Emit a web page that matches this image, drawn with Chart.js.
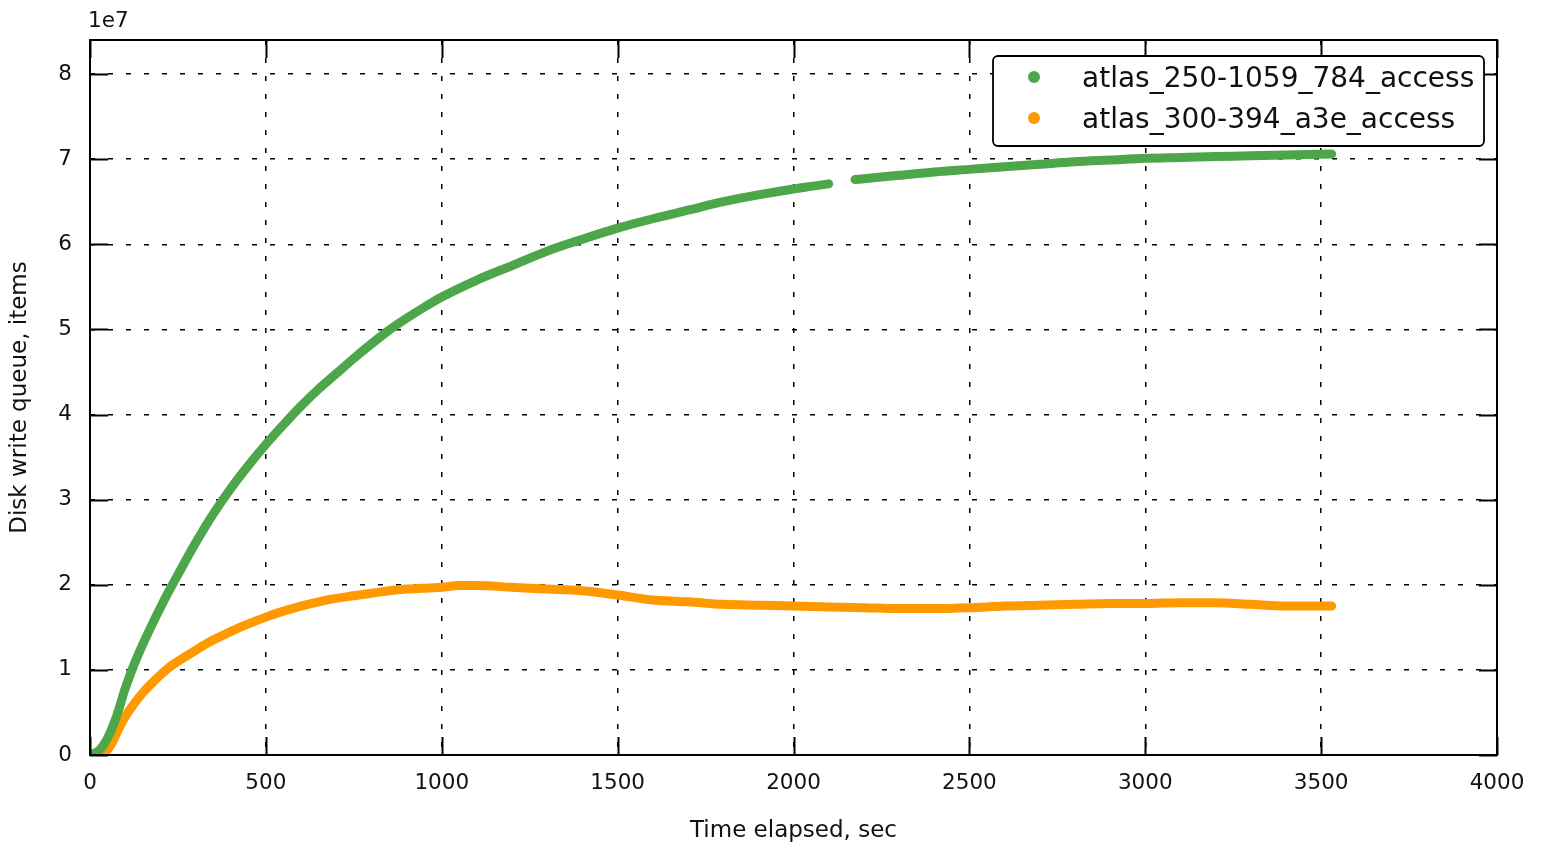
<!DOCTYPE html>
<html>
<head>
<meta charset="utf-8">
<script src="https://cdn.jsdelivr.net/npm/chart.js@4.4.1/dist/chart.umd.min.js"></script>
<style>
  html, body { margin: 0; padding: 0; background: #fff; }
  canvas { display: block; }
</style>
</head>
<body>
<canvas id="c" width="1547" height="852"></canvas>
<script>
// ---- data (values in units of 1e7 items) ----
const greenLabel = 'atlas_250-1059_784_access';
const orangeLabel = 'atlas_300-394_a3e_access';

const greenTimes = [0, 25, 50, 75, 100, 125, 150, 175, 200, 225, 250, 300, 350, 400, 450, 500, 550, 600, 650, 700, 750, 800, 850, 900, 950, 1000, 1100, 1200, 1300, 1400, 1500, 1600, 1700, 1800, 1900, 2000, 2050, 2100, 2140, 2175, 2200, 2300, 2400, 2500, 2600, 2700, 2800, 2900, 3000, 3100, 3200, 3300, 3400, 3530];
const greenValues = [0, 0.05, 0.2, 0.45, 0.78, 1.06, 1.3, 1.52, 1.73, 1.93, 2.12, 2.49, 2.83, 3.13, 3.4, 3.65, 3.88, 4.1, 4.3, 4.48, 4.66, 4.83, 4.99, 5.13, 5.26, 5.38, 5.58, 5.75, 5.92, 6.06, 6.19, 6.3, 6.4, 6.5, 6.58, 6.65, 6.68, 6.71, null, 6.76, 6.77, 6.81, 6.85, 6.88, 6.91, 6.94, 6.97, 6.99, 7.01, 7.02, 7.03, 7.04, 7.05, 7.06];

const orangeTimes = [0, 25, 40, 60, 75, 100, 125, 150, 175, 200, 225, 250, 300, 350, 400, 450, 500, 550, 600, 650, 700, 750, 800, 850, 900, 950, 1000, 1050, 1100, 1200, 1300, 1400, 1500, 1600, 1700, 1800, 1900, 2000, 2100, 2200, 2300, 2400, 2500, 2600, 2700, 2800, 2900, 3000, 3100, 3200, 3300, 3400, 3500, 3530];
const orangeValues = [0, 0, 0.02, 0.12, 0.25, 0.45, 0.6, 0.73, 0.84, 0.94, 1.03, 1.1, 1.23, 1.35, 1.45, 1.54, 1.62, 1.69, 1.75, 1.8, 1.84, 1.87, 1.9, 1.93, 1.95, 1.96, 1.97, 1.99, 1.99, 1.97, 1.95, 1.93, 1.88, 1.82, 1.8, 1.77, 1.76, 1.75, 1.74, 1.73, 1.72, 1.72, 1.73, 1.75, 1.76, 1.77, 1.78, 1.78, 1.79, 1.79, 1.77, 1.75, 1.75, 1.75];

const xTickValues = [0, 500, 1000, 1500, 2000, 2500, 3000, 3500, 4000];
const yTickValues = [0, 1, 2, 3, 4, 5, 6, 7, 8]; // in units of 1e7
const SCALE = 1e7;
const xMax = 4000;
const yMax = 8.4;

const GREEN = '#4da64a';
const ORANGE = '#ff9900';
const FONT = 'DejaVu Sans';

function toPoints(ts, vs) {
  return ts.map((t, i) => ({ x: t, y: vs[i] === null ? null : vs[i] * SCALE }));
}

const frameAndLegend = {
  id: 'frameAndLegend',
  afterDatasetsDraw(chart) {
    const ctx = chart.ctx;
    const a = chart.chartArea;
    const xs = chart.scales.x, ys = chart.scales.y;
    ctx.save();
    ctx.strokeStyle = '#000';
    ctx.lineWidth = 2;
    ctx.strokeRect(a.left, a.top, a.right - a.left, a.bottom - a.top);
    const TL = 18;
    ctx.lineWidth = 2;
    ctx.beginPath();
    xs.ticks.forEach(t => {
      const px = Math.round(xs.getPixelForValue(t.value)) + 0.5;
      ctx.moveTo(px, a.bottom); ctx.lineTo(px, a.bottom - TL);
      ctx.moveTo(px, a.top); ctx.lineTo(px, a.top + TL);
    });
    ys.ticks.forEach(t => {
      const py = Math.round(ys.getPixelForValue(t.value)) + 0.5;
      ctx.moveTo(a.left, py); ctx.lineTo(a.left + TL, py);
      ctx.moveTo(a.right, py); ctx.lineTo(a.right - TL, py);
    });
    ctx.stroke();
    // exponent label
    ctx.fillStyle = '#111';
    ctx.font = '21.5px "' + FONT + '"';
    ctx.textAlign = 'left';
    ctx.textBaseline = 'alphabetic';
    ctx.fillText('1e7', a.left - 2, 26.5);
    ctx.restore();
  },
  afterDraw(chart) {
    const ctx = chart.ctx;
    const a = chart.chartArea;
    const bx = a.right - 504, by = a.top + 16, bw = 491, bh = 90;
    ctx.save();
    ctx.beginPath();
    ctx.roundRect(bx, by, bw, bh, 5);
    ctx.fillStyle = '#fff';
    ctx.fill();
    ctx.lineWidth = 1.8;
    ctx.strokeStyle = '#000';
    ctx.stroke();
    ctx.font = '28px "' + FONT + '"';
    ctx.textAlign = 'left';
    ctx.textBaseline = 'alphabetic';
    chart.data.datasets.forEach((ds, i) => {
      const cy = by + 21 + i * 41;
      ctx.beginPath();
      ctx.arc(bx + 41, cy, 6, 0, Math.PI * 2);
      ctx.fillStyle = ds.borderColor;
      ctx.fill();
      ctx.fillStyle = '#111';
      ctx.fillText(ds.label, bx + 89, cy + 9.5);
    });
    ctx.restore();
  }
};

const tickFont = { family: FONT, size: 21.5 };
const titleFont = { family: FONT, size: 23 };

function seriesStyle(color) {
  return {
    borderColor: color,
    backgroundColor: color,
    borderWidth: 9,
    borderCapStyle: 'round',
    borderJoinStyle: 'round',
    pointRadius: 0,
    cubicInterpolationMode: 'monotone',
    spanGaps: false,
    fill: false
  };
}

new Chart(document.getElementById('c'), {
  type: 'line',
  data: {
    datasets: [
      Object.assign({ label: greenLabel, data: toPoints(greenTimes, greenValues) }, seriesStyle(GREEN)),
      Object.assign({ label: orangeLabel, data: toPoints(orangeTimes, orangeValues) }, seriesStyle(ORANGE))
    ]
  },
  options: {
    responsive: false,
    animation: false,
    devicePixelRatio: 1,
    layout: { padding: { top: 40, right: 50, left: 0, bottom: 0 } },
    plugins: { legend: { display: false }, tooltip: { enabled: false } },
    scales: {
      x: {
        type: 'linear',
        min: 0,
        max: xMax,
        afterBuildTicks(s) { s.ticks = xTickValues.map(v => ({ value: v })); },
        ticks: {
          autoSkip: false,
          maxRotation: 0,
          padding: 16,
          color: '#111',
          font: tickFont,
          callback: v => String(v)
        },
        grid: { color: '#000', lineWidth: 1.5, drawTicks: false },
        border: { display: false, dash: [5, 13] },
        title: {
          display: true,
          text: 'Time elapsed, sec',
          color: '#111',
          font: titleFont,
          padding: { top: 7, bottom: 7 }
        },
        afterFit(s) { s.height = 97; }
      },
      y: {
        type: 'linear',
        min: 0,
        max: yMax * SCALE,
        afterBuildTicks(s) { s.ticks = yTickValues.map(v => ({ value: v * SCALE })); },
        ticks: {
          autoSkip: false,
          padding: 18,
          color: '#111',
          font: tickFont,
          callback: v => String(Math.round(v / SCALE))
        },
        grid: { color: '#000', lineWidth: 1.5, drawTicks: false },
        border: { display: false, dash: [5, 13] },
        title: {
          display: true,
          text: 'Disk write queue, items',
          color: '#111',
          font: titleFont,
          padding: { top: 6, bottom: 6 }
        },
        afterFit(s) { s.width = 90; }
      }
    }
  },
  plugins: [frameAndLegend]
});
</script>
</body>
</html>
